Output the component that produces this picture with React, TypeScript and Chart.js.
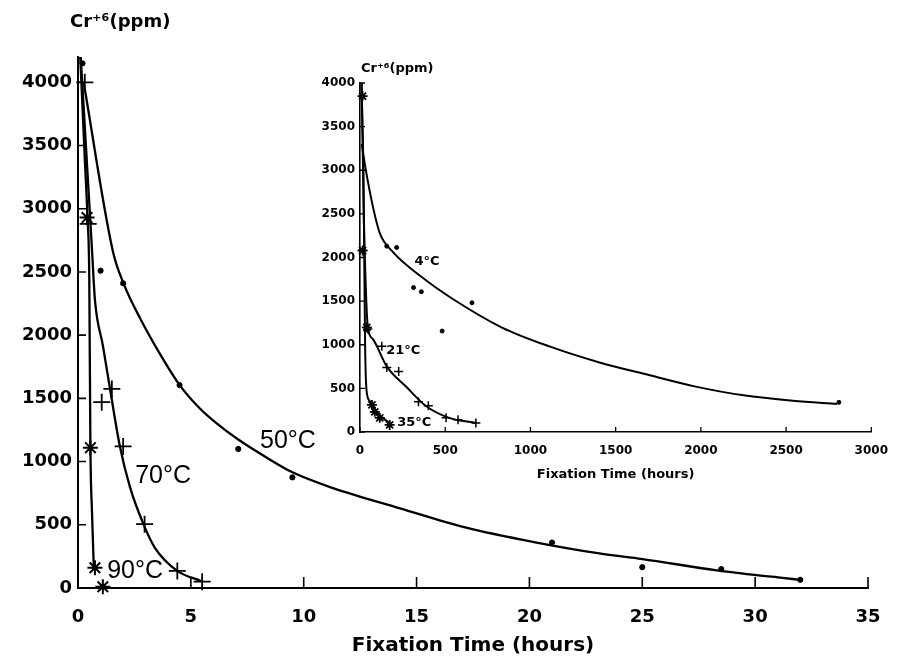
import React, { useEffect, useRef } from "react";
import { Chart, registerables } from "chart.js";
Chart.register(...registerables);

// ---------- Main chart (hours) ----------
const mainXMax = 35;
const mainYMax = 4200;
const mainXTicks = [0, 5, 10, 15, 20, 25, 30, 35];
const mainYTicks = [0, 500, 1000, 1500, 2000, 2500, 3000, 3500, 4000];

const dots50X = [0.2, 1.0, 2.0, 4.5, 7.1, 9.5, 21.0, 25.0, 28.5, 32.0];
const dots50Y = [4150, 2510, 2410, 1605, 1100, 875, 360, 165, 150, 65];
const curve50X = [0.25, 1.55, 2.04, 2.75, 3.63, 4.52, 5.4, 6.16, 7.05, 8.37, 9.5, 11.3, 14.27, 17.2, 20.2, 23.1, 25.0, 28.3, 31.2, 31.9];
const curve50Y = [4000, 2660, 2400, 2134, 1852, 1601, 1420, 1300, 1180, 1030, 915, 790, 630, 477, 363, 273, 229, 140, 80, 67];

const plus70X = [0.3, 0.45, 1.05, 1.5, 2.0, 2.95, 4.4, 5.5];
const plus70Y = [4000, 2880, 1470, 1575, 1120, 505, 135, 50];
const curve70X = [0.12, 0.35, 0.62, 0.75, 1.1, 1.42, 1.86, 2.3, 2.9, 3.4, 4.4, 5.45];
const curve70Y = [4200, 3500, 2675, 2280, 1920, 1574, 1117, 800, 505, 320, 135, 55];

const star90X = [0.4, 0.55, 0.75, 1.1];
const star90Y = [2930, 1110, 160, 10];
const curve90X = [0.1, 0.3, 0.42, 0.5, 0.55, 0.62, 0.7];
const curve90Y = [4200, 3400, 2930, 2440, 1110, 600, 160];

const mainLabelText = ["50°C", "70°C", "90°C"];
const mainLabelX = [9.3, 3.77, 2.53];
const mainLabelY = [1164, 887, 135];
const mainYTitle = "Cr⁺⁶(ppm)";
const mainXTitle = "Fixation Time (hours)";

// ---------- Inset chart (hours, long) ----------
const insetXMax = 3000;
const insetYMax = 4000;
const insetXTicks = [0, 500, 1000, 1500, 2000, 2500, 3000];
const insetYTicks = [0, 500, 1000, 1500, 2000, 2500, 3000, 3500, 4000];

const dots4X = [157, 215, 314, 360, 482, 657, 2810];
const dots4Y = [2130, 2115, 1655, 1608, 1157, 1481, 340];
const curve4X = [10, 30, 76, 116, 190, 366, 540, 830, 1120, 1400, 1700, 1970, 2250, 2540, 2800];
const curve4Y = [3300, 3050, 2580, 2280, 2070, 1770, 1530, 1200, 975, 800, 650, 520, 420, 358, 322];

const plus21X = [46, 128, 157, 227, 343, 401, 505, 575, 680];
const plus21Y = [1180, 983, 740, 694, 347, 301, 162, 139, 104];
const curve21X = [10, 22, 35, 46, 76, 157, 273, 389, 523, 680];
const curve21Y = [4000, 2500, 1600, 1200, 1064, 752, 515, 295, 162, 104];

const star35X = [15, 15, 40, 70, 87, 116, 174];
const star35Y = [3850, 2080, 1200, 310, 231, 162, 81];
const curve35X = [8, 20, 25, 30, 38, 55, 76, 100, 134, 186];
const curve35Y = [4000, 3000, 2000, 1000, 486, 360, 289, 220, 162, 81];

const insetLabelText = ["4°C", "21°C", "35°C"];
const insetLabelX = [393, 254, 318];
const insetLabelY = [1950, 929, 103];
const insetYTitle = "Cr⁺⁶(ppm)";
const insetXTitle = "Fixation Time (hours)";

const pts = (xs: number[], ys: number[]) => xs.map((x, i) => ({ x, y: ys[i] }));
const fixTicks = (vals: number[]) => (s: any) => {
  s.ticks = vals.map((v) => ({ value: v }));
};

const curveDs = (xs: number[], ys: number[], w: number) => ({
  data: pts(xs, ys),
  showLine: true,
  borderColor: "#000",
  borderWidth: w,
  pointRadius: 0,
  cubicInterpolationMode: "monotone" as const,
  tension: 0.4,
  clip: false as any,
});

const markDs = (xs: number[], ys: number[], style: string, r: number, w: number) => ({
  data: pts(xs, ys),
  showLine: false,
  pointStyle: style as any,
  pointRadius: r,
  borderColor: "#000",
  backgroundColor: "#000",
  pointBorderWidth: w,
  clip: false as any,
});

function insideTicks(xLen: number, yLen: number, width: number) {
  return {
    id: "insideTicks",
    afterDraw(chart: any) {
      const { ctx, chartArea } = chart;
      const xs = chart.scales.x;
      const ys = chart.scales.y;
      ctx.save();
      ctx.strokeStyle = "#000";
      ctx.lineWidth = width;
      ctx.beginPath();
      xs.ticks.forEach((t: any) => {
        const px = xs.getPixelForValue(t.value);
        ctx.moveTo(px, chartArea.bottom);
        ctx.lineTo(px, chartArea.bottom - xLen);
      });
      ys.ticks.forEach((t: any) => {
        const py = ys.getPixelForValue(t.value);
        ctx.moveTo(chartArea.left, py);
        ctx.lineTo(chartArea.left + yLen, py);
      });
      ctx.stroke();
      ctx.restore();
    },
  };
}

function textLayer(
  texts: string[],
  xs: number[],
  ys: number[],
  font: string,
  title: string,
  titleFont: string,
  titleDx: number,
  titleDy: number
) {
  return {
    id: "textLayer",
    afterDatasetsDraw(chart: any) {
      const { ctx, chartArea } = chart;
      const sx = chart.scales.x;
      const sy = chart.scales.y;
      ctx.save();
      ctx.fillStyle = "#000";
      ctx.font = font;
      ctx.textAlign = "center";
      ctx.textBaseline = "middle";
      texts.forEach((t, i) => {
        ctx.fillText(t, sx.getPixelForValue(xs[i]), sy.getPixelForValue(ys[i]));
      });
      ctx.font = titleFont;
      ctx.textAlign = "left";
      ctx.fillText(title, chartArea.left + titleDx, chartArea.top + titleDy);
      ctx.restore();
    },
  };
}

const plain = (v: any) => String(v);

export default function App() {
  const mainRef = useRef<HTMLCanvasElement>(null);
  const insetRef = useRef<HTMLCanvasElement>(null);

  useEffect(() => {
    const tickFont = { family: "DejaVu Sans", weight: "bold" as const, size: 18 };
    const main = new Chart(mainRef.current!, {
      type: "scatter",
      data: {
        datasets: [
          curveDs(curve50X, curve50Y, 2.3),
          curveDs(curve70X, curve70Y, 2.3),
          curveDs(curve90X, curve90Y, 2.3),
          markDs(dots50X, dots50Y, "circle", 2.6, 1),
          markDs(plus70X, plus70Y, "cross", 8.5, 1.8),
          markDs(star90X, star90Y, "star", 7.5, 2),
        ] as any,
      },
      options: {
        animation: false,
        responsive: false,
        events: [],
        layout: { padding: { top: 57, right: 32, left: 0, bottom: 0 } },
        plugins: { legend: { display: false }, tooltip: { enabled: false } },
        scales: {
          x: {
            type: "linear",
            min: 0,
            max: mainXMax,
            afterBuildTicks: fixTicks(mainXTicks),
            ticks: { font: tickFont, color: "#000", padding: 19, callback: plain },
            grid: { display: false, drawTicks: false },
            border: { display: true, color: "#000", width: 2 },
            title: {
              display: true,
              text: mainXTitle,
              color: "#000",
              font: { family: "DejaVu Sans", weight: "bold", size: 20 },
              padding: { top: 0, bottom: 5 },
            },
            afterFit: (s: any) => {
              s.height = 75;
            },
          },
          y: {
            type: "linear",
            min: 0,
            max: mainYMax,
            afterBuildTicks: fixTicks(mainYTicks),
            ticks: { font: tickFont, color: "#000", padding: 6, callback: plain },
            grid: { display: false, drawTicks: false },
            border: { display: true, color: "#000", width: 2 },
            afterFit: (s: any) => {
              s.width = 78;
            },
          },
        },
      } as any,
      plugins: [
        insideTicks(11, 8, 1.6),
        textLayer(mainLabelText, mainLabelX, mainLabelY, "25px 'Liberation Sans'", mainYTitle, "bold 18px 'DejaVu Sans'", -8, -35),
      ],
    });

    const insetTickFont = { family: "DejaVu Sans", weight: "bold" as const, size: 12 };
    const inset = new Chart(insetRef.current!, {
      type: "scatter",
      data: {
        datasets: [
          curveDs(curve4X, curve4Y, 2),
          curveDs(curve21X, curve21Y, 2),
          curveDs(curve35X, curve35Y, 2),
          markDs(dots4X, dots4Y, "circle", 2, 1),
          markDs(plus21X, plus21Y, "cross", 4.5, 1.5),
          markDs(star35X, star35Y, "star", 5, 1.8),
        ] as any,
      },
      options: {
        animation: false,
        responsive: false,
        events: [],
        layout: { padding: { top: 43, right: 21, left: 0, bottom: 0 } },
        plugins: { legend: { display: false }, tooltip: { enabled: false } },
        scales: {
          x: {
            type: "linear",
            min: 0,
            max: insetXMax,
            afterBuildTicks: fixTicks(insetXTicks),
            ticks: { font: insetTickFont, color: "#000", padding: 12, callback: plain },
            grid: { display: false, drawTicks: false },
            border: { display: true, color: "#000", width: 1.6 },
            title: {
              display: true,
              text: insetXTitle,
              color: "#000",
              font: { family: "DejaVu Sans", weight: "bold", size: 13 },
              padding: { top: 0, bottom: 18 },
            },
            afterFit: (s: any) => {
              s.height = 68;
            },
          },
          y: {
            type: "linear",
            min: 0,
            max: insetYMax,
            afterBuildTicks: fixTicks(insetYTicks),
            ticks: { font: insetTickFont, color: "#000", padding: 5, callback: plain },
            grid: { display: false, drawTicks: false },
            border: { display: true, color: "#000", width: 1.6 },
            afterFit: (s: any) => {
              s.width = 60;
            },
          },
        },
      } as any,
      plugins: [
        insideTicks(5, 5, 1.3),
        textLayer(insetLabelText, insetLabelX, insetLabelY, "bold 13px 'DejaVu Sans'", insetYTitle, "bold 13px 'DejaVu Sans'", 1, -14),
      ],
    });

    return () => {
      main.destroy();
      inset.destroy();
    };
  }, []);

  return (
    <div style={{ position: "absolute", left: 0, top: 0, width: 900, height: 663, background: "#fff" }}>
      <canvas ref={mainRef} width={900} height={663} style={{ position: "absolute", left: 0, top: 0, display: "block" }} />
      <canvas ref={insetRef} width={600} height={460} style={{ position: "absolute", left: 300, top: 40, display: "block" }} />
    </div>
  );
}
